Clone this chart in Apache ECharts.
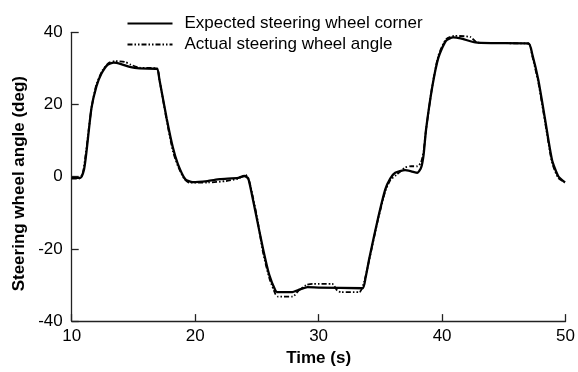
<!DOCTYPE html>
<html>
<head>
<meta charset="utf-8">
<script src="https://cdn.jsdelivr.net/npm/echarts@6/dist/echarts.min.js"></script>
<style>html,body{margin:0;padding:0;background:#fff}#c{width:578px;height:372px}</style>
</head>
<body>
<div id="c"></div>
<script>
const seriesNames = ["Expected steering wheel corner", "Actual steering wheel angle"];
const xTicks = [10, 20, 30, 40, 50];
const yTicks = [-40, -20, 0, 20, 40];
const xTitle = "Time (s)";
const yTitle = "Steering wheel angle (deg)";

const expectedT = [10, 10.7, 11.0, 11.2, 11.6, 12.0, 12.4, 12.9, 13.4, 14.0, 14.7, 15.5, 16.9, 17.1, 17.7, 18.2, 18.6, 19.2, 19.8, 21.0, 22.0, 23.5, 24.0, 24.3, 24.6, 24.9, 25.5, 26.0, 26.5, 26.7, 27.8, 28.5, 29.1, 30.0, 33.55, 33.8, 34.1, 34.8, 35.4, 35.8, 36.2, 37.0, 37.5, 38.0, 38.3, 38.5, 38.7, 39.2, 39.7, 40.3, 40.9, 41.5, 42.7, 44.0, 47.0, 47.3, 47.8, 48.35, 48.9, 49.4, 49.95];
const expectedV = [-0.3, -0.3, 2, 7, 19, 25, 28.5, 31, 31.6, 31.2, 30.4, 30.0, 29.9, 27, 16, 8, 3.5, -0.7, -1.5, -1.2, -0.7, -0.3, 0.2, -0.5, -5, -10, -20, -27.2, -31.5, -32, -32, -31.2, -30.6, -30.7, -30.9, -28, -22.7, -11.7, -3.5, -0.5, 1.1, 1.8, 1.5, 1.1, 2.5, 6, 13, 24.8, 33, 37.6, 38.6, 38.3, 37.2, 37, 36.9, 34, 26.7, 15.7, 4.7, 0.2, -1.6];

const actualT = [10, 10.6, 10.9, 11.2, 11.6, 12.0, 12.5, 13.0, 13.5, 14.3, 14.8, 15.5, 16.9, 17.1, 17.7, 18.2, 18.6, 19.1, 19.5, 21.0, 22.5, 23.5, 24.1, 24.4, 24.7, 25.0, 25.5, 26.0, 26.5, 26.7, 27.9, 28.4, 29.0, 29.5, 31.1, 31.5, 31.8, 33.3, 33.7, 34.1, 34.8, 35.4, 35.8, 36.3, 37.0, 37.5, 38.0, 38.3, 38.5, 38.7, 39.2, 39.7, 40.3, 41.0, 42.3, 42.8, 44.0, 47.0, 47.3, 47.8, 48.35, 48.9, 49.4, 49.95];
const actualV = [-0.5, -0.5, 1, 8, 19, 25.5, 29.5, 31.5, 32, 31.8, 31, 30.2, 30, 27, 15.5, 7, 3, -0.5, -1.6, -1.6, -1.2, -0.5, 0.5, -1.5, -6, -11, -21, -28, -32.5, -33.2, -33.2, -31.5, -30, -29.7, -29.7, -31.5, -32, -32, -29, -23, -12, -4, -1, 0.5, 2.5, 2.9, 2.9, 4, 7, 13, 25, 33.5, 38, 39, 38.7, 37.2, 37, 36.9, 33.5, 26, 15, 4, -0.3, -1.6];

const pair = (t, v) => t.map((x, i) => [x, v[i]]);
const font = "'Liberation Sans', Arial, sans-serif";

const chart = echarts.init(document.getElementById('c'), null, {renderer: 'canvas'});
chart.setOption({
  animation: false,
  backgroundColor: '#fff',
  textStyle: {fontFamily: font},
  grid: {left: 71.7, right: 10.3, top: 32.3, bottom: 49.7, containLabel: false},
  legend: {
    orient: 'vertical', left: 121.5, top: 10, itemWidth: 45, itemHeight: 14, itemGap: 4,
    itemStyle: {opacity: 0},
    textStyle: {fontSize: 17, color: '#000', fontFamily: font, padding: [0, 0, 0, 7]},
    data: [seriesNames[0], seriesNames[1]]
  },
  graphic: [{
    type: 'text', left: 11, top: 76, rotation: Math.PI / 2,
    style: {text: yTitle, fill: '#000', font: "bold 17px 'Liberation Sans', Arial, sans-serif"}
  }],
  xAxis: {
    type: 'value', min: xTicks[0], max: xTicks[xTicks.length - 1], interval: 10,
    name: xTitle, nameLocation: 'middle', nameGap: 24,
    nameTextStyle: {fontSize: 17, fontWeight: 'bold', color: '#000', fontFamily: font},
    axisLine: {show: true, onZero: false, lineStyle: {color: '#222', width: 1.3}},
    axisTick: {show: true, inside: true, length: 7, lineStyle: {color: '#222', width: 1.3}},
    axisLabel: {fontSize: 17, color: '#000', margin: 7, fontFamily: font},
    splitLine: {show: false}
  },
  yAxis: {
    type: 'value', min: yTicks[0], max: yTicks[yTicks.length - 1], interval: 20,
    axisLine: {show: true, onZero: false, lineStyle: {color: '#222', width: 1.3}},
    axisTick: {show: true, inside: true, length: 7, lineStyle: {color: '#222', width: 1.3}},
    axisLabel: {fontSize: 17, color: '#000', margin: 9, fontFamily: font},
    splitLine: {show: false}
  },
  series: [
    {
      name: seriesNames[0], type: 'line', data: pair(expectedT, expectedV),
      showSymbol: false, symbol: 'none', smooth: 0.2, color: '#000',
      lineStyle: {color: '#000', width: 2.3, type: 'solid'}, z: 3
    },
    {
      name: seriesNames[1], type: 'line', data: pair(actualT, actualV),
      showSymbol: false, symbol: 'none', smooth: 0.2, color: '#000',
      lineStyle: {color: '#000', width: 1.8, type: [5, 2, 1.5, 2, 1.5, 2]}, z: 4
    }
  ]
});
</script>
</body>
</html>
